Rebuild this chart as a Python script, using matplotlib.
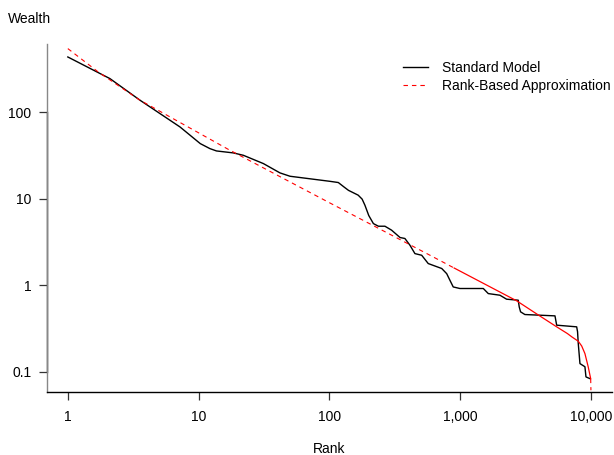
import matplotlib
matplotlib.use('Agg')
import matplotlib.pyplot as plt
import numpy as np

plt.rcParams['font.family'] = ['Liberation Sans', 'DejaVu Sans']
plt.rcParams['font.size'] = 10

# Standard model curve
std_rank = [1, 1.87, 2.10, 3.56, 7.21, 10.3, 12.2, 13.7, 18.4, 22.0, 31.3, 41.9, 50,
            101, 117, 130, 140, 166, 178, 187, 200, 217, 237, 266, 299, 347, 378, 413,
            451, 508, 570, 723, 789, 840, 885, 995, 1503, 1641, 2014, 2265, 2780,
            2830, 2897, 3126, 5309, 5470, 7780, 7900, 8000, 8241, 8995, 9162, 9840]
std_wealth = [436, 268, 245, 138, 67.6, 43.4, 38.0, 35.7, 33.9, 31.8, 25.5, 19.9, 18.2,
              15.9, 15.4, 13.6, 12.5, 11.0, 9.9, 8.41, 6.4, 5.16, 4.81, 4.81, 4.33,
              3.56, 3.47, 2.90, 2.32, 2.22, 1.78, 1.56, 1.36, 1.12, 0.955, 0.916,
              0.916, 0.80, 0.766, 0.689, 0.671, 0.56, 0.492, 0.458, 0.442, 0.345,
              0.330, 0.29, 0.212, 0.124, 0.114, 0.087, 0.083]

# Rank-based approximation
rb_rank = [1, 1.71, 3.56, 17, 100, 347, 588, 900, 2704, 3981, 5470, 6607, 7160,
           8000, 8500, 8995, 9528, 9954, 10000]
rb_wealth = [545, 292, 138, 37, 9.0, 3.37, 2.22, 1.58, 0.66, 0.45, 0.33, 0.276,
             0.252, 0.225, 0.198, 0.162, 0.114, 0.083, 0.061]

x_ticks = [1, 10, 100, 1000, 10000]
x_labels = ['1', '10', '100', '1,000', '10,000']
y_ticks = [0.1, 1, 10, 100]
y_labels = ['0.1', '1', '10', '100']

fig = plt.figure(figsize=(6.14, 4.55), dpi=100)
ax = fig.add_axes([47/614, 1-392/455, (612-47)/614, (392-44)/455])

ax.plot(std_rank, std_wealth, color='black', lw=1.0, label='Standard Model')

# dashed at first, solid through the dense tail, dashed again at the very end
k = 8
ax.plot(rb_rank[:k], rb_wealth[:k], color='red', lw=0.8, dashes=(4, 3.6),
        label='Rank-Based Approximation')
ax.plot(rb_rank[k-1:-1], rb_wealth[k-1:-1], color='red', lw=0.9)
ax.plot(rb_rank[-2:], rb_wealth[-2:], color='red', lw=0.8, dashes=(4, 3.6))

ax.set_xscale('log')
ax.set_yscale('log')
ax.set_xlim(0.693, 14490)
ax.set_ylim(0.0582, 616)

ax.set_xticks(x_ticks)
ax.set_xticklabels(x_labels)
ax.set_yticks(y_ticks)
ax.set_yticklabels(y_labels)
ax.minorticks_off()
ax.tick_params(axis='x', length=5.8, width=0.9, pad=7, color='#333333')
ax.tick_params(axis='y', length=5.8, width=0.9, pad=5.5, color='#333333')

for s in ['top', 'right']:
    ax.spines[s].set_visible(False)
ax.spines['left'].set_color('#888888')
ax.spines['left'].set_linewidth(1.0)
ax.spines['bottom'].set_linewidth(1.0)
ax.plot([0, 0], [0.1, 100], transform=ax.get_yaxis_transform(), color='#222222',
        lw=1.0, clip_on=False)

leg = ax.legend(loc='upper left', bbox_to_anchor=(403/614, 1-61/455),
                bbox_transform=fig.transFigure, frameon=False, handlelength=1.8,
                handletextpad=1.0, labelspacing=0.3, borderpad=0, borderaxespad=0)

fig.text(8/614, 1-19/455, 'Wealth', ha='left', va='center')
fig.text(329/614, 1-453/455, 'Rank', ha='center', va='baseline')

plt.savefig('out.png', dpi=100)
